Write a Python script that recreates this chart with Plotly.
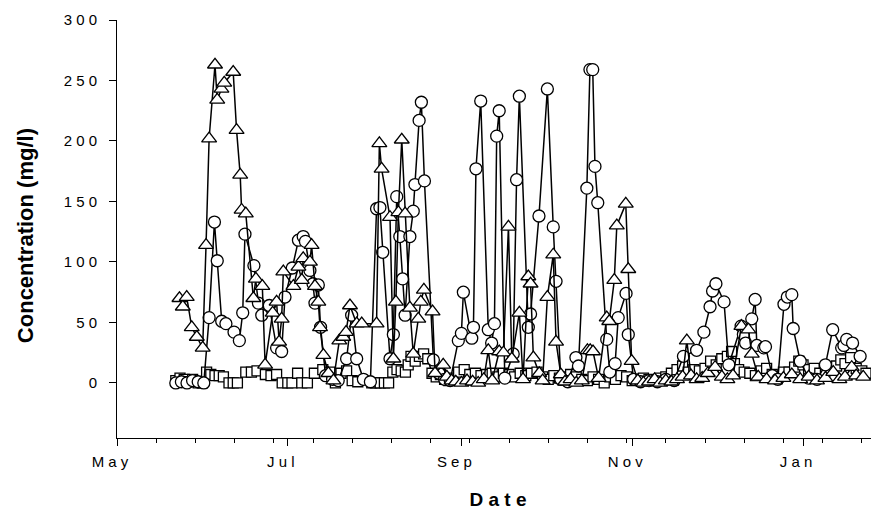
import plotly.graph_objects as go
import pandas as pd

BASE = "2001-05-01"

# ---- Triangle series (day offset from 1 May, concentration mg/l) ----
tri_day = [22.3, 23.5, 24.9, 26.7, 28.5, 30.6, 31.8, 32.9, 35.0, 35.8, 37.3, 38.3, 41.5, 42.7,
           44.0, 44.5, 46.0, 48.7, 49.6, 51.9, 52.9, 55.6, 57.0, 57.9, 58.8, 59.4, 63.0, 64.8,
           66.0, 66.5, 68.9, 69.5, 70.7, 71.9, 72.5, 73.7, 75.5, 77.3, 79.4, 80.8, 81.8, 83.2,
           85.6, 87.4, 92.7, 93.7, 94.5, 97.5, 98.7, 99.6, 100.5, 101.7, 102.9, 104.6, 105.8,
           107.6, 108.5, 109.6, 112.7, 113.6, 116.5, 117.8, 119.5, 121, 123, 125, 127, 129, 131,
           132.6, 134, 136.5, 138, 139.8, 141, 143.7, 145, 146.9, 147.7, 148.7, 150.8, 152,
           153.7, 155.8, 156.8, 158.5, 160, 162, 164, 166, 168, 169, 170, 172, 174.9, 175.8,
           177.6, 178.5, 181.7, 182.6, 183.8, 186, 188, 190, 192, 194, 196, 198, 200, 202,
           203.5, 205, 207, 209, 211, 213.6, 216, 218, 220, 223, 225.5, 226.7, 229, 232, 235,
           238, 241, 244, 247, 250, 253, 255.8, 258, 260, 262.4, 264, 266.5]
tri_val = [70, 63, 71, 46, 38, 29, 114, 202, 263, 234, 243, 248, 257, 209,
           172, 143, 140, 70, 86, 80, 15, 58, 67, 34, 53, 92, 80, 96,
           85, 103, 100, 114, 80, 67, 46, 23, 8, 2, 35, 38, 42, 64,
           49, 49, 49, 198, 177, 137, 20, 67, 141, 201, 140, 62, 24,
           53, 67, 77, 59, 8, 15, 5, 2, 1, 0, 2, 1, 0, 3,
           27, 2, 26, 25, 129, 20, 58, 3, 88, 82, 21, 8, 2,
           71, 106, 34, 7, 1, 3, 0, 2, 27, 27, 26, 4, 54, 51,
           85, 130, 148, 94, 18, 2, 0, 1, 3, 0, 2, 1, 3, 5,
           35, 6, 3, 4, 8, 13, 5, 3, 6, 47, 44, 24, 5, 3, 2,
           4, 7, 3, 5, 2, 4, 9, 3, 5, 13, 6, 5]

# ---- Circle series ----
cir_day = [21, 23, 25, 27, 29, 31, 32.9, 34.8, 35.8, 37.4, 38.9, 41.8, 43.7, 44.9, 45.7, 48.9,
           50.5, 51.7, 54.4, 57, 58.8, 60, 62.6, 64.8, 66.5, 67.3, 68.9, 70, 70.7, 71.9, 72.7,
           74.5, 77, 79, 82, 83.8, 85.6, 88, 90.5, 92.7, 93.9, 94.9, 97.5, 98.7, 99.9, 101, 102,
           102.9, 104.6, 105.8, 106.4, 107.9, 108.7, 109.8, 113, 115, 117, 119, 121.9, 123, 123.7,
           126.7, 127.3, 128.2, 129.9, 132.6, 133.8, 134.8, 135.6, 136.5, 138.5, 141.5, 142.7,
           143.7, 146.9, 147.7, 150.7, 153.7, 155.8, 156.8, 158.5, 161, 163.9, 164.8, 167.8,
           168.9, 169.9, 170.7, 171.7, 174.9, 176, 177.9, 179, 181.8, 182.6, 184.5, 187, 190, 193,
           196, 199, 202.3, 207, 209.6, 211.8, 212.7, 213.9, 216.8, 218.5, 222.9, 223.7, 224.5,
           226.7, 227.9, 228.5, 231, 231.6, 234, 236, 238.2, 239.4, 241, 241.5, 244, 247, 250,
           253, 255.6, 258.8, 259.6, 260.6, 262.7, 265.4]
cir_val = [0, 1, 0, 2, 1, 0, 54, 133, 101, 51, 49, 42, 35, 58, 123, 97,
           66, 56, 64, 29, 26, 71, 95, 118, 121, 117, 93, 82, 66, 81, 46,
           6, 3, 2, 20, 56, 20, 3, 1, 144, 145, 108, 20, 40, 154, 121, 86,
           56, 121, 142, 164, 217, 232, 167, 19, 8, 3, 2, 35, 41, 75,
           37, 46, 177, 233, 44, 33, 49, 204, 225, 4, 24, 168,
           237, 46, 57, 138, 243, 129, 84, 3, 1, 21, 14, 161,
           259, 259, 179, 149, 36, 9, 16, 54, 74, 40, 3, 1, 2, 1,
           3, 2, 22, 27, 42, 63, 76, 82, 67, 15, 47, 40, 33,
           53, 69, 31, 29, 30, 6, 3, 65, 71, 73, 45, 18, 4, 3,
           15, 44, 29, 31, 36, 33, 22]

# ---- Square series ----
sq_day = [21, 22.5, 24, 25.5, 27, 29, 30.5, 32, 33.5, 35, 36.5, 38, 40, 41.5, 43, 46, 48, 50,
          53, 55, 57, 59, 61, 62.5, 64.5, 66, 68, 70.5, 73.5, 76, 78, 80, 82, 84, 86, 91, 92.5,
          94, 95.5, 97, 98.5, 100, 101.5, 103, 104, 105, 106.5, 108, 109.5, 111, 112.5, 114,
          115.5, 117, 118.5, 120, 122, 124, 126, 128, 130, 132, 134, 136, 138, 140, 142, 144,
          146, 148, 150, 152, 154, 156, 158, 160, 162, 164, 166, 168, 170, 172, 174, 176, 178,
          180, 182, 184, 186, 188, 190, 192, 194, 196, 198, 200, 202, 204, 206, 208, 210, 212,
          214, 216, 218, 219.5, 220.5, 222, 224, 226, 228, 230, 232, 234, 236, 238, 240, 242,
          243.5, 245, 247, 249, 251, 253, 255, 257, 258.5, 260, 262, 264, 266, 267.5]
sq_val = [2, 4, 3, 1, 3, 0, 0, 9, 7, 6, 6, 5, 0, 0, 0, 9, 9, 10,
          7, 6, 7, 0, 0, 0, 8, 0, 0, 8, 11, 9, 0, 8, 10, 2, 1, 0, 0,
          0, 0, 0, 9, 11, 10, 9, 15, 22, 18, 22, 24, 20, 8, 5,
          7, 3, 2, 4, 9, 11, 7, 8, 6, 7, 8, 5, 8, 7, 5, 8,
          6, 8, 9, 5, 3, 6, 4, 5, 7, 5, 3, 2, 5, 3, 0, 5, 3,
          6, 5, 2, 3, 4, 3, 2, 4, 5, 8, 11, 14, 9, 11, 10, 12, 18,
          15, 20, 22, 26, 16, 11, 9, 8, 6, 10, 12, 7, 5, 9, 9, 13,
          18, 15, 11, 12, 8, 10, 12, 14, 19, 16, 21, 12, 10, 8]

y_ticks = [0, 50, 100, 150, 200, 250, 300]
x_major = ["2001-05-01", "2001-07-01", "2001-09-01", "2001-11-01", "2002-01-01"]
x_major_text = ["M a y", "J u l", "S e p", "N o v", "J a n"]


def to_dates(days):
    return pd.Timestamp(BASE) + pd.to_timedelta(days, unit="D")


def spaced(s):
    return " ".join(list(str(s)))


fig = go.Figure()

common_line = dict(color="black", width=1.5)

fig.add_trace(go.Scatter(
    x=to_dates(sq_day), y=sq_val, mode="lines+markers", name="squares",
    line=common_line,
    marker=dict(symbol="square", size=10, color="white", line=dict(color="black", width=1.3)),
))
fig.add_trace(go.Scatter(
    x=to_dates(cir_day), y=cir_val, mode="lines+markers", name="circles",
    line=common_line,
    marker=dict(symbol="circle", size=12, color="white", line=dict(color="black", width=1.3)),
))
fig.add_trace(go.Scatter(
    x=to_dates(tri_day), y=tri_val, mode="lines+markers", name="triangles",
    line=common_line,
    marker=dict(symbol="triangle-up", size=13, color="white", line=dict(color="black", width=1.3)),
))

x_end = pd.Timestamp(BASE) + pd.Timedelta(days=272.14)
minor_vals = pd.date_range(BASE, periods=20, freq="14D")

font_family = "Liberation Sans, Arial, sans-serif"

fig.update_layout(
    width=871, height=502,
    margin=dict(l=109, r=0, t=12, b=72),
    paper_bgcolor="white", plot_bgcolor="white",
    showlegend=False,
    font=dict(family=font_family, color="black"),
    xaxis=dict(
        type="date",
        range=[BASE, x_end.strftime("%Y-%m-%d %H:%M")],
        tickmode="array", tickvals=x_major, ticktext=x_major_text,
        ticks="outside", ticklen=7, tickwidth=1, tickcolor="black",
        showline=True, linecolor="black", linewidth=1,
        showgrid=False, zeroline=False,
        tickfont=dict(size=15, family=font_family, color="black"),
        ticklabelshift=-7,
        ticklabelstandoff=3,
        minor=dict(tickmode="array", tickvals=list(minor_vals), ticks="outside",
                   ticklen=4, tickwidth=1, tickcolor="black", showgrid=False),
        title=dict(text="<b>D a t e</b>", font=dict(size=19, family=font_family, color="black"),
                   standoff=28),
        automargin=False,
    ),
    yaxis=dict(
        range=[-45.5, 300],
        tickmode="array", tickvals=y_ticks, ticktext=[spaced(v) for v in y_ticks],
        ticks="outside", ticklen=7, tickwidth=1, tickcolor="black",
        showline=True, linecolor="black", linewidth=1,
        showgrid=False, zeroline=False,
        tickfont=dict(size=15, family=font_family, color="black"),
        ticklabelstandoff=9,
        automargin=False,
    ),
    annotations=[dict(
        text="<b>Concentration (mg/l)</b>", textangle=-90,
        xref="paper", yref="paper", x=-0.1207, y=0.483,
        xanchor="center", yanchor="middle", showarrow=False,
        font=dict(size=22, family=font_family, color="black"),
    )],
)

fig.write_html("out.html")
